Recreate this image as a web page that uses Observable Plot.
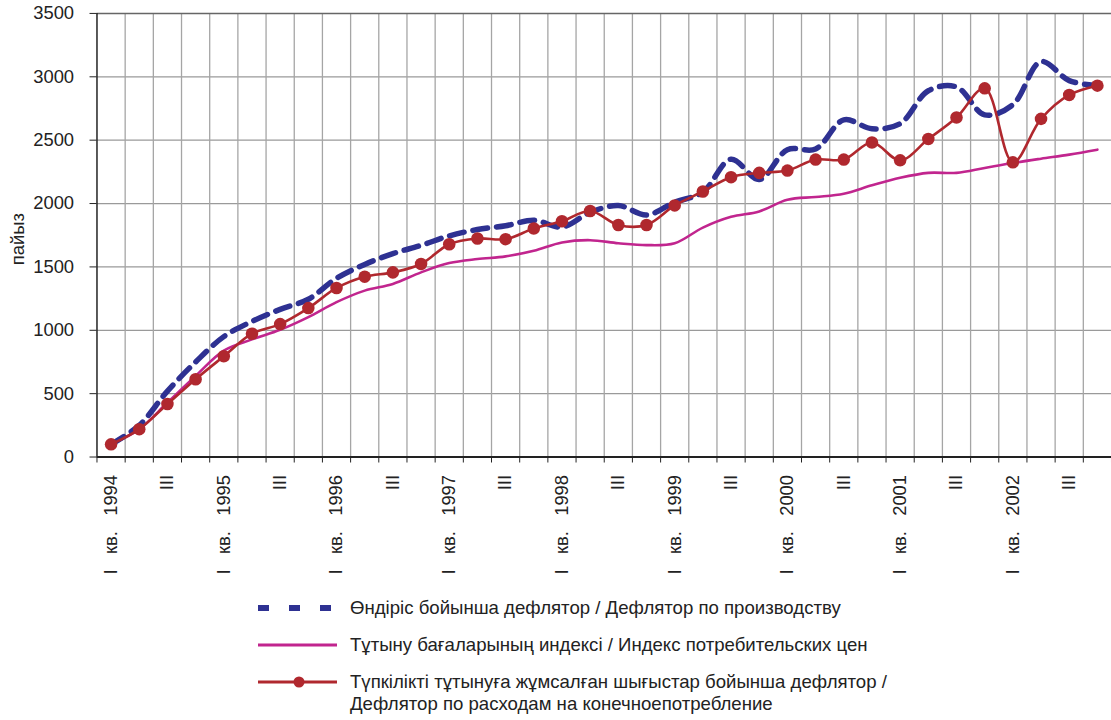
<!DOCTYPE html>
<html>
<head>
<meta charset="utf-8">
<script src="https://cdn.jsdelivr.net/npm/d3@7"></script>
<script src="https://cdn.jsdelivr.net/npm/@observablehq/plot@0.6"></script>
<style>
  html, body { margin: 0; padding: 0; background: #fff; overflow: hidden; }
  body { width: 1111px; height: 720px; position: relative; font-family: "Liberation Sans", Arial, sans-serif; color: #222; }
  #chart { position: absolute; left: 0; top: 0; width: 1111px; height: 590px; overflow: hidden; }
  .leg { position: absolute; left: 0; top: 0; font-size: 18.6px; line-height: 22px; color: #222; white-space: nowrap; }
  .leg svg { position: absolute; }
  .leg .t { position: absolute; }
</style>
</head>
<body>
<div id="chart"></div>
<div class="leg" id="legend"></div>
<script>
// Quarter tick labels (1994 Q1 … 2002 Q4)
const tickLabels = [
  "I кв. 1994", "", "III", "",
  "I кв. 1995", "", "III", "",
  "I кв. 1996", "", "III", "",
  "I кв. 1997", "", "III", "",
  "I кв. 1998", "", "III", "",
  "I кв. 1999", "", "III", "",
  "I кв. 2000", "", "III", "",
  "I кв. 2001", "", "III", "",
  "I кв. 2002", "", "III", ""
];

// Series values (percent)
const productionDeflator = [100, 250, 520, 750, 950, 1070, 1165, 1245, 1410, 1520, 1605, 1670,
  1745, 1795, 1825, 1868, 1815, 1930, 1985, 1910, 2010, 2090, 2350, 2190,
  2425, 2430, 2660, 2590, 2630, 2890, 2920, 2700, 2780, 3120, 2970, 2930];
const cpiIndex = [100, 220, 430, 640, 840, 928, 1004, 1104, 1222, 1313, 1366, 1457,
  1530, 1562, 1583, 1627, 1693, 1711, 1687, 1672, 1687, 1810, 1895, 1938,
  2030, 2052, 2078, 2144, 2203, 2242, 2242, 2281, 2320, 2354, 2386, 2425];
const consumptionDeflator = [100, 220, 418, 614, 795, 973, 1049, 1175, 1334, 1423, 1457, 1523,
  1679, 1724, 1719, 1803, 1860, 1941, 1831, 1831, 1985, 2095, 2208, 2242,
  2260, 2347, 2347, 2482, 2341, 2509, 2679, 2909, 2325, 2668, 2857, 2930];

const yTicks = [0, 500, 1000, 1500, 2000, 2500, 3000, 3500];
const yLabel = "пайыз";

const seriesNames = [
  "Өндіріс бойынша дефлятор / Дефлятор по производству",
  "Тұтыну бағаларының индексі / Индекс потребительских цен",
  "Түпкілікті тұтынуға жұмсалған шығыстар бойынша дефлятор /\nДефлятор по расходам на конечноепотребление"
];
const colors = { prod: "#2E3192", cpi: "#C1258E", cons: "#B0282E" };

const n = tickLabels.length;
const rows = (vals) => vals.map((v, i) => ({ q: i + 0.5, v }));
const labelRows = tickLabels.map((t, i) => ({ q: i + 0.5, t: t.replace(/ /g, "\u00A0\u00A0\u00A0") })).filter(d => d.t !== "");

const chart = Plot.plot({
  width: 1117,
  height: 590,
  marginTop: 13,
  marginBottom: 131,
  marginLeft: 97,
  marginRight: 0,
  style: { fontFamily: "Liberation Sans, Arial, sans-serif", fontSize: "18.5px", color: "#222", background: "#fff" },
  x: { type: "linear", domain: [0, n] },
  y: { domain: [0, 3500] },
  marks: [
    Plot.ruleY(yTicks.slice(1, -1), { stroke: "#9a9a9a", strokeWidth: 1.2 }),
    Plot.ruleX(d3.range(1, n), { y1: 0, y2: 3500, stroke: "#a5a5a5", strokeWidth: 1.3 }),
    Plot.ruleY([3500], { stroke: "#666", strokeWidth: 1.5 }),
    Plot.axisY({ ticks: yTicks, tickSize: 7, tickPadding: 16, fontSize: 18.5, tickFormat: d => String(d), label: null }),
    Plot.text([yLabel], { text: d => d, frameAnchor: "left", dx: -79, dy: 4, rotate: -90, textAnchor: "middle", fontSize: 18.5, fill: "#222" }),
    Plot.axisX({ ticks: d3.range(0, n + 1), tickSize: 6, tickFormat: () => "", label: null, stroke: "#222" }),
    Plot.text(labelRows, { x: "q", text: "t", frameAnchor: "bottom", dy: 18, rotate: -90, textAnchor: "end", lineAnchor: "middle", fontSize: 18.5, fill: "#222" }),
    Plot.line(rows(cpiIndex), { x: "q", y: "v", stroke: colors.cpi, strokeWidth: 2.6, curve: "catmull-rom" }),
    Plot.line(rows(productionDeflator), { x: "q", y: "v", stroke: colors.prod, strokeWidth: 5.5, strokeDasharray: "15,9", curve: "catmull-rom" }),
    Plot.line(rows(consumptionDeflator), { x: "q", y: "v", stroke: colors.cons, strokeWidth: 2.6, curve: "catmull-rom" }),
    Plot.dot(rows(consumptionDeflator), { x: "q", y: "v", r: 6.3, fill: colors.cons, stroke: "none" }),
    Plot.ruleX([0], { y1: 0, y2: 3500, stroke: "#222", strokeWidth: 1.5 }),
    Plot.ruleY([0], { stroke: "#222", strokeWidth: 2 })
  ]
});
document.getElementById("chart").appendChild(chart);

// Legend
const leg = document.getElementById("legend");
const legendRows = [
  { y: 608, kind: "prod" },
  { y: 645, kind: "cpi" },
  { y: 682, kind: "cons" }
];
legendRows.forEach((r, i) => {
  const ns = "http://www.w3.org/2000/svg";
  const svg = document.createElementNS(ns, "svg");
  svg.setAttribute("width", 90); svg.setAttribute("height", 16);
  svg.style.left = "255px"; svg.style.top = (r.y - 8) + "px";
  const line = document.createElementNS(ns, "line");
  line.setAttribute("x1", 3); line.setAttribute("x2", r.kind === "prod" ? 78 : 82);
  line.setAttribute("y1", 8); line.setAttribute("y2", 8);
  line.setAttribute("stroke", colors[r.kind]);
  if (r.kind === "prod") { line.setAttribute("stroke-width", 6); line.setAttribute("stroke-dasharray", "11,20"); }
  else { line.setAttribute("stroke-width", 3); }
  svg.appendChild(line);
  if (r.kind === "cons") {
    const c = document.createElementNS(ns, "circle");
    c.setAttribute("cx", 44); c.setAttribute("cy", 8); c.setAttribute("r", 5.5);
    c.setAttribute("fill", colors.cons);
    svg.appendChild(c);
  }
  leg.appendChild(svg);
  const t = document.createElement("div");
  t.className = "t";
  t.style.left = "350px"; t.style.top = (r.y - 11) + "px";
  t.innerHTML = seriesNames[i].replace("\n", "<br>");
  leg.appendChild(t);
});
</script>
</body>
</html>
